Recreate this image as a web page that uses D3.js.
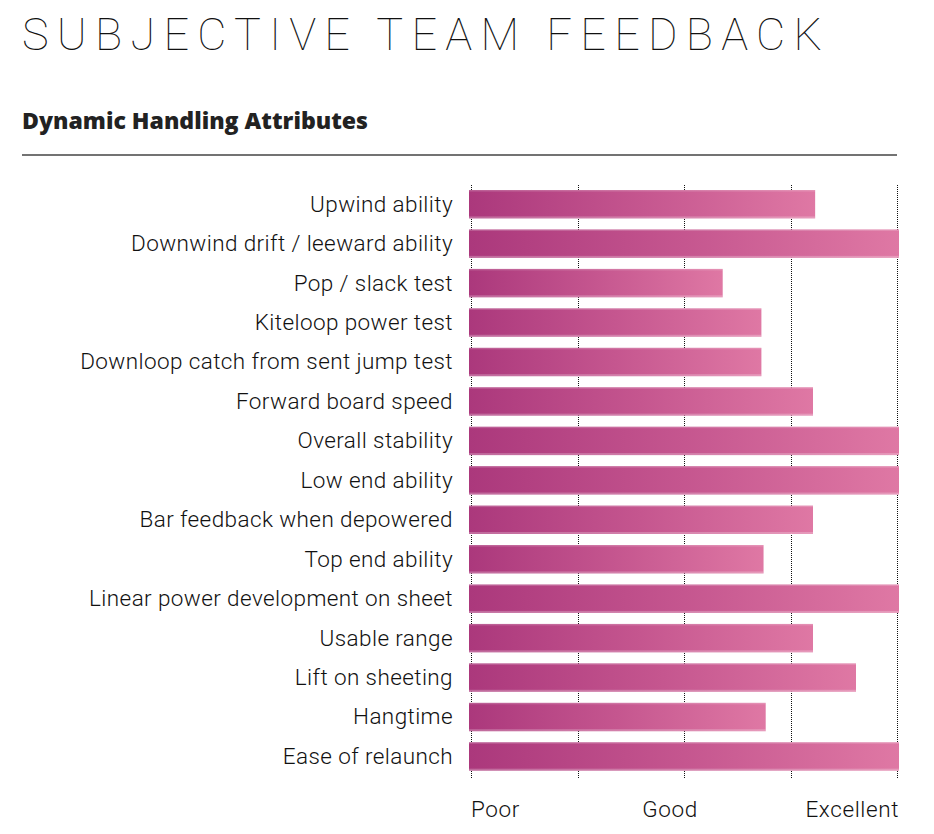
<!DOCTYPE html>
<html><head><meta charset="utf-8">
<script src="https://cdn.jsdelivr.net/npm/d3@7"></script>
<style>body{margin:0;background:#fff}svg{display:block}</style>
</head><body>
<svg id="chart" width="934" height="834"></svg>
<script>
const categories = ["Upwind ability","Downwind drift / leeward ability","Pop / slack test","Kiteloop power test","Downloop catch from sent jump test","Forward board speed","Overall stability","Low end ability","Bar feedback when depowered","Top end ability","Linear power development on sheet","Usable range","Lift on sheeting","Hangtime","Ease of relaunch"];
const values = [8.05, 10, 5.9, 6.8, 6.8, 8.0, 10, 10, 8.0, 6.85, 10, 8.0, 9.0, 6.9, 10];
const gridTicks = [0, 2.5, 5, 7.5, 10];
const axisLabels = [{v:0,t:"Poor",a:"start"},{v:5,t:"Good",a:"middle"},{v:10,t:"Excellent",a:"end"}];
const title = "SUBJECTIVE TEAM FEEDBACK";
const subtitle = "Dynamic Handling Attributes";

const svg = d3.select("#chart");
const font = "Roboto, 'Noto Sans', sans-serif";

const x = d3.scaleLinear().domain([0,10]).range([469, 899]);
const xGrid = x.copy().range([471.5, 897.5]);
const y = d3.scaleBand().domain(categories).range([184.5, 776.2]).paddingInner(0.28).paddingOuter(0.14);

const defs = svg.append("defs");
const grad = defs.append("linearGradient").attr("id","barGrad").attr("x1","0").attr("x2","1").attr("y1","0").attr("y2","0");
grad.append("stop").attr("offset","0%").attr("stop-color","#ab387c");
grad.append("stop").attr("offset","50%").attr("stop-color","#c5568f");
grad.append("stop").attr("offset","100%").attr("stop-color","#df78a4");

// title
svg.append("text").attr("x",22).attr("y",50).text(title)
  .attr("font-family","Roboto, 'Open Sans', sans-serif").attr("font-weight",100)
  .attr("font-size",45).attr("fill","#111")
  .attr("textLength",800).attr("lengthAdjust","spacing");
svg.append("text").attr("x",22).attr("y",129).text(subtitle)
  .attr("font-family","'Open Sans', Roboto, sans-serif").attr("font-weight",800)
  .attr("font-size",22).attr("fill","#222")
  .attr("textLength",346).attr("lengthAdjust","spacingAndGlyphs");
svg.append("line").attr("x1",22).attr("x2",897).attr("y1",155).attr("y2",155)
  .attr("stroke","#444").attr("stroke-width",1.5);

// grid
svg.append("g").selectAll("line").data(gridTicks).join("line")
  .attr("x1",d=>xGrid(d)).attr("x2",d=>xGrid(d))
  .attr("y1",y.range()[0]).attr("y2",y.range()[1]+3)
  .attr("stroke","#111").attr("stroke-width",1).attr("stroke-dasharray","1,1")
  .attr("shape-rendering","crispEdges");

// bars
const bars = svg.append("g").selectAll("g").data(categories).join("g");
bars.append("rect").attr("x",x(0)).attr("y",d=>y(d))
  .attr("width",(d,i)=>x(values[i])-x(0)).attr("height",y.bandwidth())
  .attr("fill","url(#barGrad)");
bars.append("rect").attr("x",x(0)).attr("y",d=>y(d)+y.bandwidth()-2)
  .attr("width",(d,i)=>x(values[i])-x(0)).attr("height",2)
  .attr("fill","#fff").attr("opacity",0.25);
bars.append("rect").attr("x",x(0)).attr("y",d=>y(d))
  .attr("width",(d,i)=>x(values[i])-x(0)).attr("height",1.5)
  .attr("fill","#fff").attr("opacity",0.18);

// labels
svg.append("g").selectAll("text").data(categories).join("text")
  .attr("x",453).attr("y",d=>y(d)+y.bandwidth()/2).attr("dy","0.33em")
  .attr("text-anchor","end").attr("font-family",font).attr("font-weight",300)
  .attr("font-size",22.5).attr("letter-spacing","0.4").attr("fill","#111").text(d=>d);

// axis labels
svg.append("g").selectAll("text").data(axisLabels).join("text")
  .attr("x",d=>d.a==="middle"? x(d.v)-14 : xGrid(d.v)+(d.a==="end"?1.5:-0.5)).attr("y",817)
  .attr("text-anchor",d=>d.a).attr("font-family",font).attr("font-weight",300)
  .attr("font-size",22.5).attr("letter-spacing","0.6").attr("fill","#111").text(d=>d.t);
</script>
</body></html>
